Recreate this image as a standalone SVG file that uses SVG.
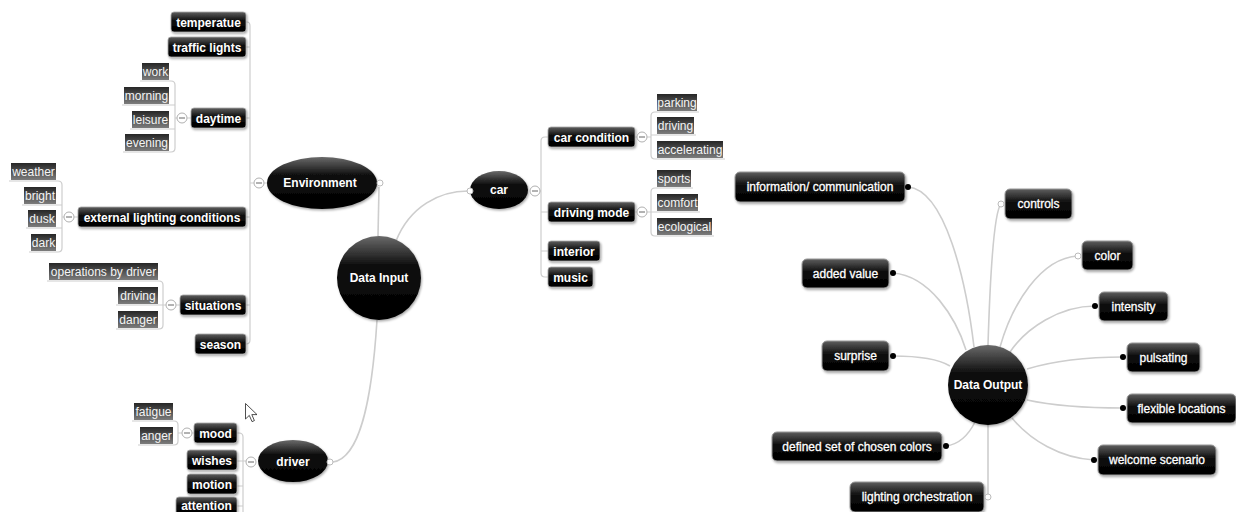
<svg xmlns="http://www.w3.org/2000/svg" width="1236" height="512" viewBox="0 0 1236 512">
<defs>
<linearGradient id="gBox" x1="0" y1="0" x2="0" y2="1"><stop offset="0" stop-color="#5e5e5e"/><stop offset="0.45" stop-color="#0c0c0c"/><stop offset="1" stop-color="#000"/></linearGradient>
<linearGradient id="gLeaf" x1="0" y1="0" x2="0" y2="1"><stop offset="0" stop-color="#262626"/><stop offset="1" stop-color="#7c7c7c"/></linearGradient>
<linearGradient id="gBall" x1="0" y1="0" x2="0" y2="1"><stop offset="0" stop-color="#6a6a6a"/><stop offset="0.35" stop-color="#0e0e0e"/><stop offset="1" stop-color="#000"/></linearGradient>
<filter id="sh" x="-20%" y="-20%" width="140%" height="150%"><feDropShadow dx="1" dy="1.5" stdDeviation="1.2" flood-color="#000" flood-opacity="0.35"/></filter>
</defs>
<style>
.conn{fill:none;stroke:#cdcdcd;stroke-width:1.6}
.br{fill:none;stroke:#cdcdcd;stroke-width:1.2}
.b1{fill:url(#gBox);stroke:#a8a8a8;stroke-width:0.8;filter:url(#sh)}
.b2{fill:url(#gBox);stroke:#9a9a9a;stroke-width:1;filter:url(#sh)}
.lf{fill:url(#gLeaf)}
.ball{fill:url(#gBall);filter:url(#sh)}
.t1{font-family:"Liberation Sans",Arial,sans-serif;font-size:12px;font-weight:bold;fill:#fff;text-anchor:middle}
.t2{font-family:"Liberation Sans",Arial,sans-serif;font-size:12px;fill:#fff;stroke:#fff;stroke-width:0.3;text-anchor:middle}
.tl{font-family:"Liberation Sans",Arial,sans-serif;font-size:12px;fill:#f4f4f4;text-anchor:middle}
.col circle{fill:#fff;stroke:#b0b0b0;stroke-width:1}
.col line{stroke:#666;stroke-width:1}
.dot{fill:#000}
.oc{fill:#fff;stroke:#bbb;stroke-width:1}
</style>

<g id="connectors">
  <path class="conn" d="M379,187 L378,236"/>
  <path class="conn" d="M396,241 C410,206 440,191 468,191"/>
  <path class="conn" d="M377,320 C372,400 360,458 333,462"/>
  <path class="br" d="M246,22 H247 Q250,22 250,26 V340 Q250,344 246,344"/>
  <path class="br" d="M246,47 H250 M246,118 H250 M246,217 H250 M246,305 H250 M250,183 H254 M264,183 H267"/>
  <path class="br" d="M140,81 H171 Q175,81 175,85 V148 Q175,152 171,152 H123 M122,105 H175 M130,129 H175 M175,118 H177 M187,118 H191"/>
  <path class="br" d="M9,181 H58 Q62,181 62,185 V248 Q62,252 58,252 H29 M22,205 H62 M26,228 H62 M62,217 H64 M74,217 H78"/>
  <path class="br" d="M47,281 H159 Q163,281 163,285 V325 Q163,329 159,329 H116 M116,305 H163 M163,305 H166 M176,305 H180"/>
  <path class="br" d="M548,137 H545 Q541,137 541,141 V273 Q541,277 545,277 H548 M541,212 H548 M541,251 H548 M540,191 H541"/>
  <path class="br" d="M635,137 H637 M647,137 H651 M699,112 H655 Q651,112 651,116 V155 Q651,159 655,159 H725 M651,135 H696"/>
  <path class="br" d="M635,212 H637 M647,212 H651 M693,188 H655 Q651,188 651,192 V232 Q651,236 655,236 H714 M651,212 H700"/>
  <path class="br" d="M237,433 H239 Q243,433 243,437 V512 M237,461 H246 M237,486 H243 M237,506 H243"/>
  <path class="br" d="M132,421 H174 Q178,421 178,425 V441 Q178,445 174,445 H138 M178,433 H182 M192,433 H194"/>
  <path class="conn" d="M908,187 C945,190 966,280 974,347"/>
  <path class="conn" d="M1001,204 C994,212 990,280 988,345"/>
  <path class="conn" d="M1078,256 C1040,258 1012,305 1000,347"/>
  <path class="conn" d="M893,273 C930,276 956,318 966,350"/>
  <path class="conn" d="M1095,306 C1060,306 1026,328 1010,352"/>
  <path class="conn" d="M893,356 C920,356 940,360 950,366"/>
  <path class="conn" d="M1123,357 C1080,357 1050,362 1027,369"/>
  <path class="conn" d="M1123,408 C1080,408 1050,405 1027,400"/>
  <path class="conn" d="M946,446 C962,444 970,432 975,422"/>
  <path class="conn" d="M1094,460 C1060,458 1030,440 1012,418"/>
  <path class="conn" d="M988,497 L988,425"/>
</g>

<g id="data-input"><circle class="ball" cx="379" cy="278" r="42"/><text class="t1" x="379" y="282">Data Input</text></g>

<g id="environment"><ellipse class="ball" cx="322" cy="183" rx="55" ry="26"/><text class="t1" x="320" y="187">Environment</text>
  <g class="col"><circle cx="259" cy="183" r="5"/><line x1="256" y1="183" x2="262" y2="183"/></g>
  <circle class="oc" cx="380" cy="183" r="3"/></g>

<g id="temperatue"><rect class="b1" x="171" y="12" width="75" height="20" rx="3"/><text class="t1" x="208.5" y="26.5">temperatue</text></g>
<g id="traffic-lights"><rect class="b1" x="168" y="37" width="78" height="20" rx="3"/><text class="t1" x="207" y="51.5">traffic lights</text></g>
<g id="daytime"><rect class="b1" x="191" y="108" width="55" height="20" rx="3"/><text class="t1" x="218.5" y="122.5">daytime</text>
  <g class="col"><circle cx="182" cy="118" r="5"/><line x1="179" y1="118" x2="185" y2="118"/></g></g>
<g id="work"><rect class="lf" x="142" y="63" width="27" height="17"/><text class="tl" x="155.5" y="76">work</text></g>
<g id="morning"><rect class="lf" x="124" y="87" width="45" height="17"/><text class="tl" x="146.5" y="100">morning</text></g>
<g id="leisure"><rect class="lf" x="132" y="111" width="37" height="17"/><text class="tl" x="150.5" y="124">leisure</text></g>
<g id="evening"><rect class="lf" x="125" y="134" width="44" height="17"/><text class="tl" x="147" y="147">evening</text></g>

<g id="external-lighting"><rect class="b1" x="78" y="207" width="168" height="20" rx="3"/><text class="t1" x="162" y="221.5">external lighting conditions</text>
  <g class="col"><circle cx="69" cy="217" r="5"/><line x1="66" y1="217" x2="72" y2="217"/></g></g>
<g id="weather"><rect class="lf" x="11" y="163" width="45" height="17"/><text class="tl" x="33.5" y="176">weather</text></g>
<g id="bright"><rect class="lf" x="24" y="187" width="32" height="17"/><text class="tl" x="40" y="200">bright</text></g>
<g id="dusk"><rect class="lf" x="28" y="210" width="28" height="17"/><text class="tl" x="42" y="223">dusk</text></g>
<g id="dark"><rect class="lf" x="31" y="234" width="25" height="17"/><text class="tl" x="43.5" y="247">dark</text></g>

<g id="situations"><rect class="b1" x="180" y="295" width="66" height="20" rx="3"/><text class="t1" x="213" y="309.5">situations</text>
  <g class="col"><circle cx="171" cy="305" r="5"/><line x1="168" y1="305" x2="174" y2="305"/></g></g>
<g id="operations"><rect class="lf" x="49" y="263" width="109" height="17"/><text class="tl" x="103.5" y="276">operations by driver</text></g>
<g id="driving-sit"><rect class="lf" x="118" y="287" width="40" height="17"/><text class="tl" x="138" y="300">driving</text></g>
<g id="danger"><rect class="lf" x="118" y="311" width="40" height="17"/><text class="tl" x="138" y="324">danger</text></g>
<g id="season"><rect class="b1" x="195" y="334" width="51" height="20" rx="3"/><text class="t1" x="220.5" y="348.5">season</text></g>

<g id="car"><ellipse class="ball" cx="499" cy="190" rx="29" ry="19"/><text class="t1" x="499" y="194">car</text>
  <circle class="oc" cx="470" cy="191" r="3"/>
  <g class="col"><circle cx="535" cy="191" r="5"/><line x1="532" y1="191" x2="538" y2="191"/></g></g>
<g id="car-condition"><rect class="b1" x="548" y="127" width="87" height="20" rx="3"/><text class="t1" x="591.5" y="141.5">car condition</text>
  <g class="col"><circle cx="642" cy="137" r="5"/><line x1="639" y1="137" x2="645" y2="137"/></g></g>
<g id="parking"><rect class="lf" x="657" y="94" width="40" height="17"/><text class="tl" x="677" y="107">parking</text></g>
<g id="driving-car"><rect class="lf" x="657" y="117" width="37" height="17"/><text class="tl" x="675.5" y="130">driving</text></g>
<g id="accelerating"><rect class="lf" x="657" y="141" width="66" height="17"/><text class="tl" x="690" y="154">accelerating</text></g>
<g id="driving-mode"><rect class="b1" x="548" y="202" width="87" height="20" rx="3"/><text class="t1" x="591.5" y="216.5">driving mode</text>
  <g class="col"><circle cx="642" cy="212" r="5"/><line x1="639" y1="212" x2="645" y2="212"/></g></g>
<g id="sports"><rect class="lf" x="657" y="170" width="34" height="17"/><text class="tl" x="674" y="183">sports</text></g>
<g id="comfort"><rect class="lf" x="657" y="194" width="41" height="17"/><text class="tl" x="677.5" y="207">comfort</text></g>
<g id="ecological"><rect class="lf" x="657" y="218" width="55" height="17"/><text class="tl" x="684.5" y="231">ecological</text></g>
<g id="interior"><rect class="b1" x="548" y="241" width="52" height="20" rx="3"/><text class="t1" x="574" y="255.5">interior</text></g>
<g id="music"><rect class="b1" x="548" y="267" width="45" height="20" rx="3"/><text class="t1" x="570.5" y="281.5">music</text></g>

<g id="driver"><ellipse class="ball" cx="293" cy="461" rx="35" ry="21"/><text class="t1" x="293" y="466">driver</text>
  <circle class="oc" cx="330" cy="462" r="3"/>
  <g class="col"><circle cx="251" cy="462" r="5"/><line x1="248" y1="462" x2="254" y2="462"/></g></g>
<g id="mood"><rect class="b1" x="194" y="423" width="43" height="20" rx="3"/><text class="t1" x="215.5" y="437.5">mood</text>
  <g class="col"><circle cx="187" cy="433" r="5"/><line x1="184" y1="433" x2="190" y2="433"/></g></g>
<g id="fatigue"><rect class="lf" x="134" y="403" width="39" height="17"/><text class="tl" x="153.5" y="416">fatigue</text></g>
<g id="anger"><rect class="lf" x="140" y="427" width="33" height="17"/><text class="tl" x="156.5" y="440">anger</text></g>
<g id="wishes"><rect class="b1" x="187" y="450" width="50" height="20" rx="3"/><text class="t1" x="212" y="464.5">wishes</text></g>
<g id="motion"><rect class="b1" x="187" y="474" width="50" height="20" rx="3"/><text class="t1" x="212" y="488.5">motion</text></g>
<g id="attention"><rect class="b1" x="176" y="497" width="61" height="18" rx="3"/><text class="t1" x="206.5" y="509.5">attention</text></g>

<g id="cursor"><path d="M245.5,403.5 L245.5,419 L249.3,415.4 L252,421.6 L254.4,420.6 L251.8,414.6 L257,414.6 Z" fill="#fff" stroke="#222" stroke-width="0.8"/></g>

<g id="data-output"><circle class="ball" cx="988" cy="385" r="40"/><text class="t1" x="988" y="389">Data Output</text></g>

<g id="information"><rect class="b2" x="735" y="172" width="170" height="30" rx="5"/><text class="t2" x="820" y="191">information/ communication</text><circle class="dot" cx="908" cy="187" r="3"/></g>
<g id="controls"><rect class="b2" x="1005" y="189" width="67" height="30" rx="5"/><text class="t2" x="1038.5" y="208">controls</text><circle class="oc" cx="1001" cy="204" r="3"/></g>
<g id="color"><rect class="b2" x="1082" y="241" width="51" height="29" rx="5"/><text class="t2" x="1107.5" y="259.5">color</text><circle class="oc" cx="1078" cy="256" r="3"/></g>
<g id="added-value"><rect class="b2" x="802" y="259" width="87" height="29" rx="5"/><text class="t2" x="845.5" y="277.5">added value</text><circle class="dot" cx="893" cy="273" r="3"/></g>
<g id="intensity"><rect class="b2" x="1099" y="292" width="69" height="29" rx="5"/><text class="t2" x="1133.5" y="310.5">intensity</text><circle class="dot" cx="1095" cy="306" r="3"/></g>
<g id="surprise"><rect class="b2" x="822" y="341" width="67" height="30" rx="5"/><text class="t2" x="855.5" y="360">surprise</text><circle class="dot" cx="893" cy="356" r="3"/></g>
<g id="pulsating"><rect class="b2" x="1127" y="343" width="73" height="29" rx="5"/><text class="t2" x="1163.5" y="361.5">pulsating</text><circle class="dot" cx="1123" cy="357" r="3"/></g>
<g id="flexible-locations"><rect class="b2" x="1127" y="394" width="109" height="29" rx="5"/><text class="t2" x="1181.5" y="412.5">flexible locations</text><circle class="dot" cx="1123" cy="408" r="3"/></g>
<g id="defined-set"><rect class="b2" x="772" y="432" width="170" height="29" rx="5"/><text class="t2" x="857" y="450.5">defined set of chosen colors</text><circle class="dot" cx="946" cy="446" r="3"/></g>
<g id="welcome"><rect class="b2" x="1098" y="445" width="118" height="30" rx="5"/><text class="t2" x="1157" y="464">welcome scenario</text><circle class="dot" cx="1094" cy="460" r="3"/></g>
<g id="lighting-orchestration"><rect class="b2" x="850" y="482" width="134" height="30" rx="5"/><text class="t2" x="917" y="501">lighting orchestration</text><circle class="oc" cx="988" cy="497" r="3"/></g>
</svg>
